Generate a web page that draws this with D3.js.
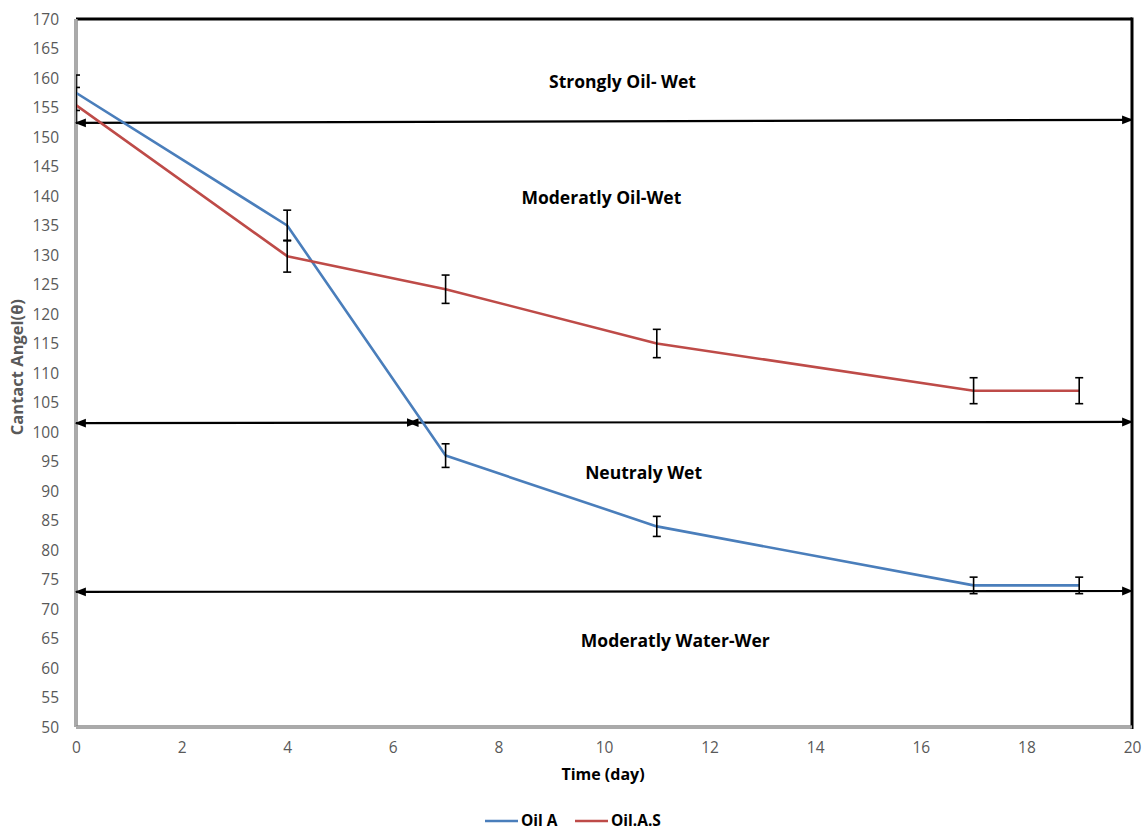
<!DOCTYPE html>
<html>
<head>
<meta charset="utf-8">
<script src="https://cdn.jsdelivr.net/npm/d3@7"></script>
<style>
  html, body { margin: 0; padding: 0; background: #fff; }
  svg text { font-family: "Open Sans", "Liberation Sans", sans-serif; }
</style>
</head>
<body>
<div id="chart"></div>
<script>
(function () {
  "use strict";

  // ---- data ----------------------------------------------------------------
  var days      = [0, 4, 7, 11, 17, 19];
  var oilA      = [157.5, 135.0, 96.0, 84.0, 74.0, 74.0];
  var oilAErr   = [3.0, 2.6, 2.0, 1.7, 1.4, 1.4];
  var oilAS     = [155.4, 129.8, 124.2, 115.0, 107.0, 107.0];
  var oilASErr  = [3.0, 2.7, 2.4, 2.4, 2.2, 2.2];
  var seriesNames = ["Oil A", "Oil.A.S"];
  var xTicks = [0, 2, 4, 6, 8, 10, 12, 14, 16, 18, 20];
  var yTicks = d3.range(50, 171, 5);

  // wettability zone boundaries: [x1, y1, x2, y2, headStart, headEnd]
  var zoneArrows = [
    [0, 152.4, 20, 152.9, true, true],
    [0, 101.5, 6.45, 101.6, true, true],
    [6.3, 101.6, 20, 101.7, true, true],
    [0, 72.9, 20, 73.05, true, true]
  ];
  var zoneLabels = ["Strongly Oil- Wet", "Moderatly Oil-Wet", "Neutraly Wet", "Moderatly Water-Wer"];
  var zoneLabelPos = [[10.35, 159.3], [9.95, 139.7], [10.75, 93.0], [11.35, 64.6]];

  var COL = { blue: "#4A7EBB", red: "#BE4B48", tick: "#595959", axis: "#8c8c8c" };

  // ---- layout --------------------------------------------------------------
  var W = 1143, H = 833;
  var M = { t: 19, r: 11, b: 106, l: 76 };
  var svg = d3.select("#chart").append("svg").attr("width", W).attr("height", H);

  var x = d3.scaleLinear().domain([0, 20]).range([M.l, W - M.r]);
  var y = d3.scaleLinear().domain([50, 170]).range([H - M.b, M.t]);

  var defs = svg.append("defs");
  defs.append("clipPath").attr("id", "plot-clip")
    .append("rect").attr("x", M.l).attr("y", M.t)
    .attr("width", x(20) - M.l).attr("height", y(50) - M.t);
  defs.append("marker").attr("id", "head").attr("viewBox", "0 0 10 10")
    .attr("refX", 9).attr("refY", 5).attr("markerWidth", 5).attr("markerHeight", 5)
    .attr("orient", "auto-start-reverse").attr("markerUnits", "strokeWidth")
    .append("path").attr("d", "M0,1 L10,5 L0,9 Z").attr("fill", "#000");

  // frame: top + right black, left + bottom grey (double-ish)
  svg.append("line").attr("x1", x(0)).attr("x2", x(20)).attr("y1", y(170)).attr("y2", y(170))
    .attr("stroke", "#000").attr("stroke-width", 3);
  svg.append("line").attr("x1", x(20)).attr("x2", x(20)).attr("y1", y(170) - 1.5).attr("y2", y(50) + 2)
    .attr("stroke", "#000").attr("stroke-width", 3);
  [[x(0), y(170), x(0), y(50)], [x(0), y(50), x(20), y(50)]].forEach(function (s) {
    svg.append("line").attr("x1", s[0]).attr("y1", s[1]).attr("x2", s[2]).attr("y2", s[3])
      .attr("stroke", COL.axis).attr("stroke-width", 3.5);
    svg.append("line").attr("x1", s[0]).attr("y1", s[1]).attr("x2", s[2]).attr("y2", s[3])
      .attr("stroke", "#c8c8c8").attr("stroke-width", 1);
  });

  // axes (labels only)
  var ay = svg.append("g").attr("transform", "translate(" + (M.l - 17) + ",0)")
    .call(d3.axisLeft(y).tickValues(yTicks).tickSize(0).tickPadding(0));
  var ax = svg.append("g").attr("transform", "translate(0," + (y(50) + 15) + ")")
    .call(d3.axisBottom(x).tickValues(xTicks).tickSize(0).tickPadding(0));
  [ax, ay].forEach(function (a) {
    a.select(".domain").remove();
    a.selectAll("text").attr("fill", COL.tick).style("font-size", "15.5px")
      .style("font-family", "'Open Sans', 'Liberation Sans', sans-serif");
  });
  ay.selectAll("text").attr("dy", "0.35em");
  ax.selectAll("text").attr("dy", "0.71em");

  svg.append("text").attr("transform", "rotate(-90)")
    .attr("x", -(y(111))).attr("y", 23).attr("text-anchor", "middle")
    .attr("fill", COL.tick).style("font-size", "16.5px").style("font-weight", "bold")
    .text("Cantact Angel(\u03b8)");
  svg.append("text").attr("x", x(10) - 1).attr("y", 780).attr("text-anchor", "middle")
    .attr("fill", "#000").style("font-size", "16px").style("font-weight", "bold")
    .text("Time (day)");

  // zone arrows
  var gArr = svg.append("g");
  zoneArrows.forEach(function (a) {
    gArr.append("line")
      .attr("x1", x(a[0])).attr("y1", y(a[1])).attr("x2", x(a[2])).attr("y2", y(a[3]))
      .attr("stroke", "#000").attr("stroke-width", 2.2)
      .attr("marker-start", a[4] ? "url(#head)" : null)
      .attr("marker-end", a[5] ? "url(#head)" : null);
  });

  // zone labels
  zoneLabels.forEach(function (t, i) {
    svg.append("text").attr("x", x(zoneLabelPos[i][0])).attr("y", y(zoneLabelPos[i][1]))
      .attr("text-anchor", "middle").attr("dy", "0.35em")
      .attr("fill", "#000").style("font-size", "17.5px").style("font-weight", "bold").text(t);
  });

  // series
  var gPlot = svg.append("g").attr("clip-path", "url(#plot-clip)");
  var series = [
    { name: seriesNames[0], vals: oilA, err: oilAErr, color: COL.blue },
    { name: seriesNames[1], vals: oilAS, err: oilASErr, color: COL.red }
  ];
  var line = d3.line().x(function (d) { return x(d[0]); }).y(function (d) { return y(d[1]); });
  series.forEach(function (s) {
    var pts = days.map(function (d, i) { return [d, s.vals[i]]; });
    gPlot.append("path").attr("d", line(pts)).attr("fill", "none")
      .attr("stroke", s.color).attr("stroke-width", 2.6).attr("stroke-linejoin", "round");
  });
  series.forEach(function (s) {
    days.forEach(function (d, i) {
      var cx = x(d), lo = y(s.vals[i] - s.err[i]), hi = y(s.vals[i] + s.err[i]);
      var g = gPlot.append("g").attr("stroke", "#000").attr("stroke-width", 1.6);
      g.append("line").attr("x1", cx).attr("x2", cx).attr("y1", lo).attr("y2", hi);
      g.append("line").attr("x1", cx - 4).attr("x2", cx + 4).attr("y1", lo).attr("y2", lo);
      g.append("line").attr("x1", cx - 4).attr("x2", cx + 4).attr("y1", hi).attr("y2", hi);
    });
  });

  // legend
  var legX = [485, 575];
  series.forEach(function (s, i) {
    var g = svg.append("g").attr("transform", "translate(" + legX[i] + ",821)");
    g.append("line").attr("x1", 0).attr("x2", 33).attr("stroke", s.color).attr("stroke-width", 2.6);
    g.append("text").attr("x", 36).attr("dy", "0.35em").attr("fill", "#000")
      .style("font-size", "15.5px").style("font-weight", "bold").text(s.name);
  });
})();
</script>
</body>
</html>
